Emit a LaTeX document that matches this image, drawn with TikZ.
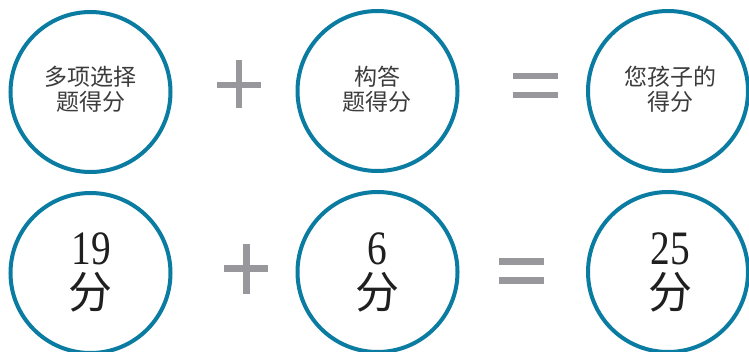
\documentclass[tikz,border=0pt]{standalone}
\usepackage{fontspec}
\newfontfamily\cjk{Noto Sans CJK SC}
\newfontfamily\numfont[FakeStretch=0.82]{Liberation Serif}
\definecolor{ringblue}{RGB}{10,124,162}
\definecolor{opgray}{RGB}{152,152,156}
\definecolor{textgray}{RGB}{60,60,60}
\begin{document}
\begin{tikzpicture}[x=1pt,y=-1pt,
  ring/.style={circle, draw=ringblue, line width=4pt, minimum size=160pt, inner sep=0pt, align=center},
  toptext/.style={font=\cjk\fontsize{23}{25}\selectfont, text=textgray, align=center},
  numtext/.style={font=\numfont\fontsize{48}{48}\selectfont, text=black!88, inner sep=0pt},
  fentext/.style={font=\cjk\fontsize{44}{44}\selectfont, text=black!88, inner sep=0pt}]
\fill[white] (0,0) rectangle (749,351);
\useasboundingbox (0,0) rectangle (749,351);
% top row
\node[ring] (c1) at (90.5,92) {};
\node[ring] (c2) at (377.5,91) {};
\node[ring] (c3) at (668,91) {};
\node[toptext] (t1) at (90.5,89) {多项选择\\题得分};
\node[toptext] (t2) at (377,89) {构答\\题得分};
\node[toptext] (t3) at (670,89) {您孩子的\\得分};
% bottom row
\node[ring] (d1) at (90.5,273) {};
\node[ring] (d2) at (377.5,272) {};
\node[ring] (d3) at (668,272) {};
\node[numtext] (n1) at (91,249) {19};
\node[numtext] (n2) at (377,249) {6};
\node[numtext] (n3) at (670,249) {25};
\node[fentext] (f1) at (90.5,292) {分};
\node[fentext] (f2) at (377,292) {分};
\node[fentext] (f3) at (670,292) {分};
% operators
\fill[opgray] (217,81.5) rectangle (261,87.5);
\fill[opgray] (236,60) rectangle (242,108);
\fill[opgray] (513,73) rectangle (558,79);
\fill[opgray] (513,92) rectangle (558,98);
\fill[opgray] (224,265) rectangle (268,272);
\fill[opgray] (243,244) rectangle (250,294);
\fill[opgray] (499,258) rectangle (544,265);
\fill[opgray] (499,277) rectangle (544,284);
\end{tikzpicture}
\end{document}
